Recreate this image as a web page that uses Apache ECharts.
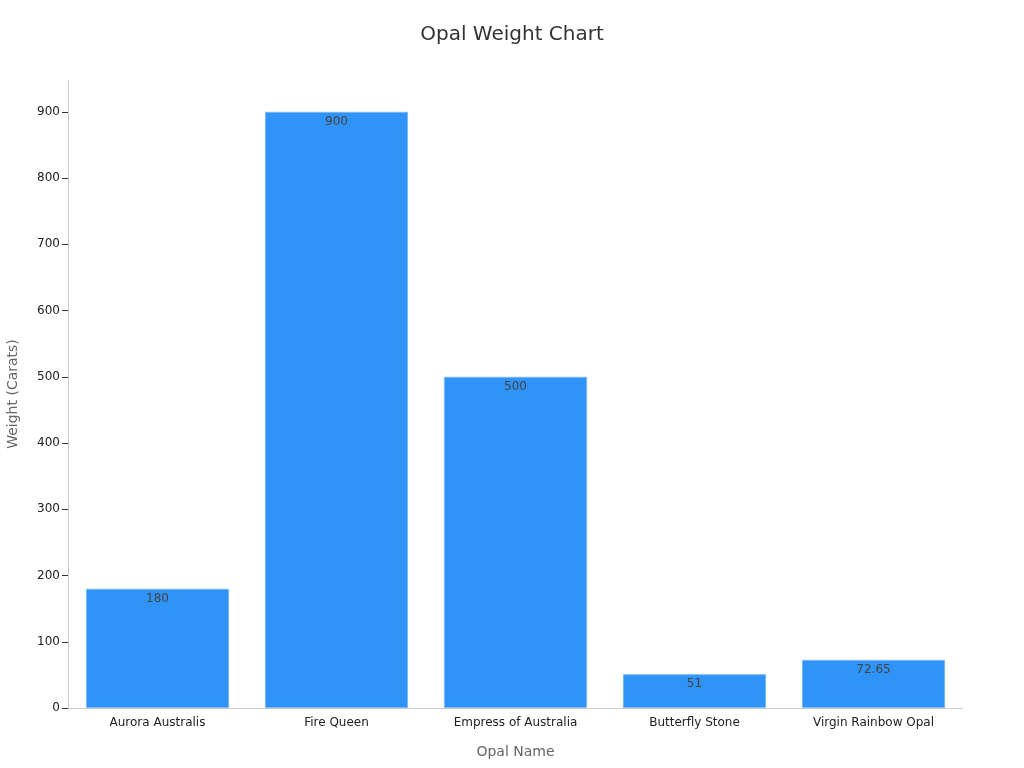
<!DOCTYPE html>
<html>
<head>
<meta charset="utf-8">
<script src="https://cdn.jsdelivr.net/npm/echarts@6/dist/echarts.min.js"></script>
<style>
  html, body { margin: 0; padding: 0; background: #fff; }
  #chart { width: 1024px; height: 768px; }
</style>
</head>
<body>
<div id="chart"></div>
<script>
const opals = ['Aurora Australis', 'Fire Queen', 'Empress of Australia', 'Butterfly Stone', 'Virgin Rainbow Opal']
const weights = [180, 900, 500, 51, 72.65]
const yTicks = [0, 100, 200, 300, 400, 500, 600, 700, 800, 900]

const chart = echarts.init(document.getElementById('chart'))
chart.setOption({
  textStyle: { fontFamily: 'DejaVu Sans' },
  title: {
    text: 'Opal Weight Chart',
    left: 'center',
    top: 20,
    textStyle: { fontSize: 20, fontWeight: 'normal', color: '#333' }
  },
  grid: { left: 68, right: 61, top: 80, bottom: 60, containLabel: false, outerBoundsMode: 'none' },
  xAxis: {
    type: 'category',
    data: opals,
    name: 'Opal Name',
    nameLocation: 'middle',
    nameGap: 37,
    nameTextStyle: { fontSize: 14, color: '#666' },
    axisLine: { lineStyle: { color: '#ccc' } },
    axisTick: { alignWithLabel: true, length: 5, lineStyle: { color: '#333' } },
    axisLabel: { color: '#222', fontSize: 12, margin: 9 }
  },
  yAxis: {
    type: 'value',
    min: 0,
    max: 948,
    name: 'Weight (Carats)',
    nameLocation: 'middle',
    nameGap: 48,
    nameTextStyle: { fontSize: 14, color: '#666' },
    axisLine: { show: true, lineStyle: { color: '#ccc' } },
    axisTick: { show: true, length: 6, customValues: yTicks, lineStyle: { color: '#333' } },
    axisLabel: { customValues: yTicks, color: '#222', fontSize: 12, margin: 8 },
    splitLine: { show: false }
  },
  series: [{
    type: 'bar',
    data: weights,
    barCategoryGap: '20%',
    itemStyle: { color: '#2f93f7', borderColor: '#7bb8f5', borderWidth: 1 },
    label: {
      show: true,
      position: 'insideTop',
      color: '#444',
      fontSize: 12,
      distance: 4
    }
  }]
})
</script>
</body>
</html>
